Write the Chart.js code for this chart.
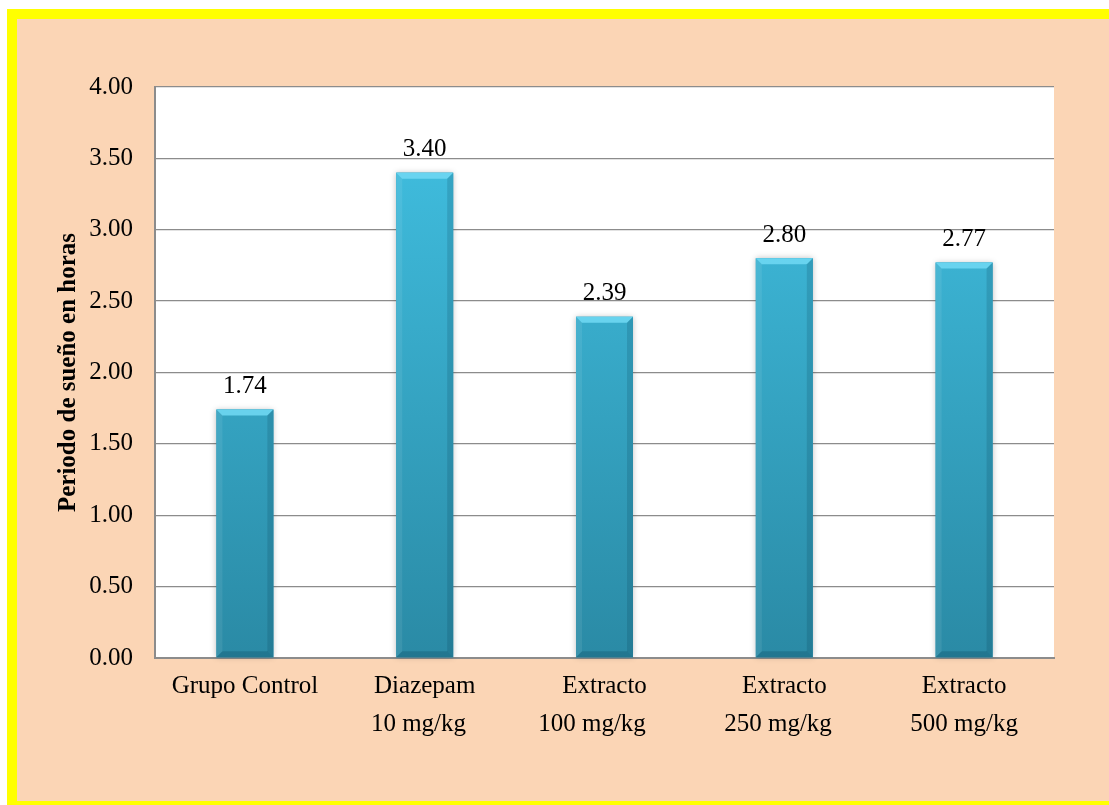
<!DOCTYPE html>
<html>
<head>
<meta charset="utf-8">
<script src="https://cdn.jsdelivr.net/npm/chart.js@4"></script>
<style>
  html, body { margin: 0; padding: 0; width: 1109px; height: 805px; background: #fff; overflow: hidden; }
  #frame {
    position: absolute; left: 7px; top: 9px; width: 1092px; height: 782px;
    border-left: 10px solid #ffff00; border-top: 10px solid #ffff00; border-bottom: 4px solid #ffff00;
    background: #fbd5b5;
  }
  #chart { position: absolute; left: 0; top: 0; }
</style>
</head>
<body>
<div id="frame"></div>
<canvas id="chart" width="1109" height="805"></canvas>
<script>
// groups (second line has trailing spaces like the original)
const groups = [
  ["Grupo Control"],
  ["Diazepam", "10 mg/kg  "],
  ["Extracto", "100 mg/kg    "],
  ["Extracto", "250 mg/kg  "],
  ["Extracto", "500 mg/kg"],
];
const sleepHours = [1.74, 3.40, 2.39, 2.80, 2.77];

const yMin = 0;
const yMax = 4;
const yStep = 0.5;

const serif = "'Liberation Serif', 'Times New Roman', serif";

// white plot background
const plotBg = {
  id: "plotBg",
  beforeDraw: (chart) => {
    const a = chart.chartArea;
    const ctx = chart.ctx;
    ctx.save();
    ctx.fillStyle = "#ffffff";
    ctx.fillRect(a.left, a.top, a.right - a.left, a.bottom - a.top);
    ctx.restore();
  },
};

// soft shadow behind bars + bevel on top of them
const bevel = {
  id: "bevel",
  beforeDatasetsDraw: (chart) => {
    const ctx = chart.ctx;
    chart.getDatasetMeta(0).data.forEach((bar) => {
      const l = bar.x - bar.width / 2;
      ctx.save();
      ctx.shadowColor = "rgba(0,0,0,0.25)";
      ctx.shadowBlur = 6;
      ctx.fillStyle = "#2f9ab8";
      ctx.fillRect(l, bar.y, bar.width, bar.base - bar.y);
      ctx.restore();
    });
  },
  afterDatasetsDraw: (chart) => {
    const ctx = chart.ctx;
    const b = 6;
    chart.getDatasetMeta(0).data.forEach((bar) => {
      const l = bar.x - bar.width / 2;
      const r = bar.x + bar.width / 2;
      const t = bar.y;
      const bt = bar.base;
      ctx.save();
      // top
      ctx.fillStyle = "rgba(110,215,242,0.9)";
      ctx.beginPath();
      ctx.moveTo(l, t); ctx.lineTo(r, t); ctx.lineTo(r - b, t + b); ctx.lineTo(l + b, t + b);
      ctx.closePath(); ctx.fill();
      // left
      ctx.fillStyle = "rgba(255,255,255,0.08)";
      ctx.beginPath();
      ctx.moveTo(l, t); ctx.lineTo(l + b, t + b); ctx.lineTo(l + b, bt - b); ctx.lineTo(l, bt);
      ctx.closePath(); ctx.fill();
      // right
      ctx.fillStyle = "rgba(0,40,60,0.15)";
      ctx.beginPath();
      ctx.moveTo(r, t); ctx.lineTo(r - b, t + b); ctx.lineTo(r - b, bt - b); ctx.lineTo(r, bt);
      ctx.closePath(); ctx.fill();
      // bottom
      ctx.fillStyle = "rgba(0,40,60,0.2)";
      ctx.beginPath();
      ctx.moveTo(l, bt); ctx.lineTo(r, bt); ctx.lineTo(r - b, bt - b); ctx.lineTo(l + b, bt - b);
      ctx.closePath(); ctx.fill();
      ctx.restore();
    });
  },
};

// value labels above the bars
const valueLabels = {
  id: "valueLabels",
  afterDatasetsDraw: (chart) => {
    const ctx = chart.ctx;
    const ds = chart.data.datasets[0];
    ctx.save();
    ctx.font = "25px " + serif;
    ctx.fillStyle = "#000";
    ctx.textAlign = "center";
    ctx.textBaseline = "middle";
    chart.getDatasetMeta(0).data.forEach((bar, i) => {
      ctx.fillText(ds.data[i].toFixed(2), bar.x, bar.y - 23);
    });
    ctx.restore();
  },
};

const ctx = document.getElementById("chart").getContext("2d");
const myChart = new Chart(ctx, {
  type: "bar",
  data: {
    labels: groups,
    datasets: [
      {
        label: "Periodo de sueño",
        data: sleepHours,
        backgroundColor: (context) => {
          const a = context.chart.chartArea;
          if (!a) return "#35a8c8";
          const g = context.chart.ctx.createLinearGradient(0, a.top, 0, a.bottom);
          g.addColorStop(0, "#42c3e5");
          g.addColorStop(1, "#2a8aa5");
          return g;
        },
        borderWidth: 0,
        barPercentage: 0.317,
        categoryPercentage: 1,
      },
    ],
  },
  options: {
    responsive: false,
    animation: false,
    layout: {
      padding: { left: 17, top: 87, right: 55, bottom: 0 },
    },
    plugins: {
      legend: { display: false },
      tooltip: { enabled: false },
    },
    scales: {
      x: {
        afterFit: (scale) => {
          scale.height = 147;
        },
        grid: { drawOnChartArea: false, drawTicks: false },
        border: { display: true, color: "#8c8c8c", width: 2 },
        ticks: {
          padding: 9,
          color: "#000",
          maxRotation: 0,
          font: { family: serif, size: 25, lineHeight: 1.52 },
        },
      },
      y: {
        min: yMin,
        max: yMax,
        afterFit: (scale) => {
          scale.width = 138;
        },
        grid: { color: "#8c8c8c", lineWidth: 1.3, drawTicks: false },
        border: { display: true, color: "#8c8c8c", width: 2 },
        ticks: {
          stepSize: yStep,
          padding: 22,
          color: "#000",
          font: { family: serif, size: 25 },
          callback: (v) => Number(v).toFixed(2),
        },
        title: {
          display: true,
          text: "Periodo de sueño en horas",
          color: "#000",
          padding: { top: 37, bottom: 0 },
          font: { family: serif, size: 25, weight: "bold" },
        },
      },
    },
  },
  plugins: [plotBg, bevel, valueLabels],
});
</script>
</body>
</html>
